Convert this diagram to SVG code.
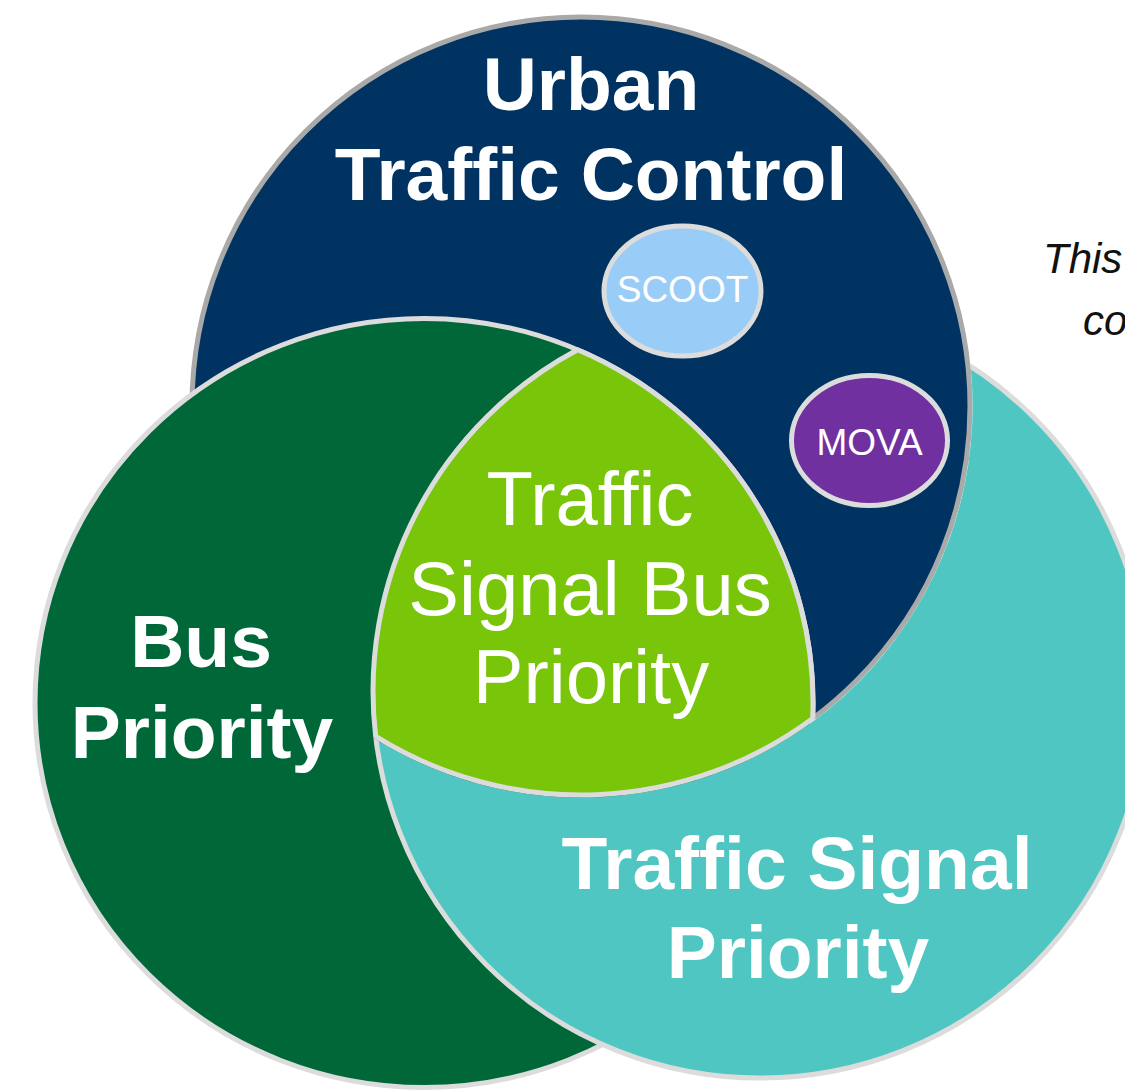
<svg xmlns="http://www.w3.org/2000/svg" width="1125" height="1090" viewBox="0 0 1125 1090">
  <defs>
    <style>
      .big { font-family: "Liberation Sans", Arial, Helvetica, sans-serif; font-weight: bold; font-size: 75px; fill: #ffffff; text-anchor: middle; }
      .mid { font-family: "Liberation Sans", Arial, Helvetica, sans-serif; font-weight: normal; font-size: 76px; fill: #ffffff; text-anchor: middle; }
      .small { font-family: "Liberation Sans", Arial, Helvetica, sans-serif; font-weight: normal; font-size: 37px; fill: #ffffff; text-anchor: middle; }
      .note { font-family: "Liberation Sans", Arial, Helvetica, sans-serif; font-style: italic; font-size: 42px; fill: #111111; }
      .edge { stroke: #dcdcdc; stroke-width: 5; }
    </style>
    <!-- everything outside the Urban Traffic Control disc (incl. its outline) -->
    <clipPath id="outsideUtc">
      <path clip-rule="evenodd" d="M0 0H1125V1090H0Z M581 14.5A391.5 391.5 0 1 0 581 797.5A391.5 391.5 0 1 0 581 14.5Z"/>
    </clipPath>
  </defs>

  <rect width="1125" height="1090" fill="#ffffff"/>

  <!-- Urban Traffic Control -->
  <g id="urban-traffic-control">
    <circle cx="581" cy="406" r="389" fill="#003361" stroke="#a9a9a9" stroke-width="5"/>
    <text class="big" x="591" y="110">Urban</text>
    <text class="big" x="591" y="200">Traffic Control</text>
  </g>

  <g id="scoot">
    <ellipse cx="682.5" cy="291" rx="78.5" ry="65" fill="#99cdf7" stroke="#dcdcdc" stroke-width="5"/>
    <text class="small" x="682.5" y="302">SCOOT</text>
  </g>

  <g id="mova">
    <ellipse cx="869.5" cy="440.5" rx="78" ry="65" fill="#7030a0" stroke="#dcdcdc" stroke-width="5"/>
    <text class="small" x="869.5" y="455">MOVA</text>
  </g>

  <!-- Bus Priority -->
  <g id="bus-priority">
    <ellipse cx="424" cy="703" rx="389" ry="384.5" fill="#006838" class="edge"/>
    <text class="big" x="201" y="667">Bus</text>
    <text class="big" x="202" y="758">Priority</text>
  </g>

  <!-- Traffic Signal Priority: sits over Bus Priority, under Urban Traffic Control -->
  <g id="traffic-signal-priority">
    <circle cx="760" cy="691" r="387" fill="#4fc6c2" class="edge" clip-path="url(#outsideUtc)"/>
    <text class="big" x="797" y="889">Traffic Signal</text>
    <text class="big" x="798" y="978">Priority</text>
  </g>

  <!-- Traffic Signal Bus Priority: common area of all three -->
  <g id="traffic-signal-bus-priority">
    <path d="M577.6 349.7A389 384.5 0 0 1 812.7 718.5A389 389 0 0 1 375.7 736.4A387 387 0 0 1 577.6 349.7Z" fill="#78c50a" class="edge" stroke-linejoin="round"/>
    <text class="mid" x="590" y="525">Traffic</text>
    <text class="mid" x="590" y="615">Signal Bus</text>
    <text class="mid" x="591" y="703">Priority</text>
  </g>

  <g id="note">
    <text class="note" x="1043" y="273">This</text>
    <text class="note" x="1083" y="335">co</text>
  </g>
</svg>
